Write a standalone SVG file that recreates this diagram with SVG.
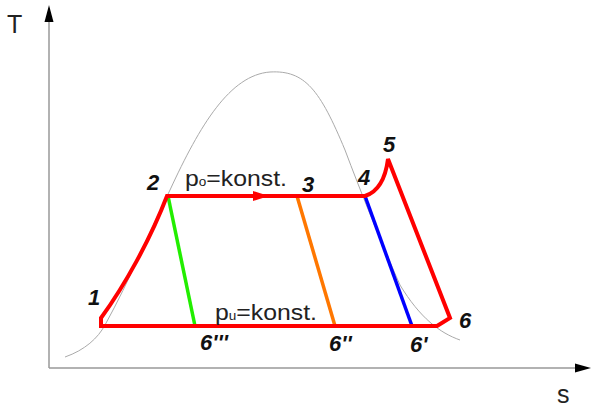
<svg xmlns="http://www.w3.org/2000/svg" width="592" height="410" viewBox="0 0 592 410">
<style>
.axis{stroke:#999;stroke-width:1.5;fill:none}
.dome{stroke:#aaa;stroke-width:1;fill:none}
.cyc{stroke:#ff0000;stroke-width:4;fill:none;stroke-linejoin:miter}
.lbl{font-family:"Liberation Sans",Arial,sans-serif;font-size:22px;font-weight:bold;font-style:italic;fill:#111}
.txt{font-family:"Liberation Sans",Arial,sans-serif;font-size:22px;fill:#222}
.ax{font-family:"Liberation Sans",Arial,sans-serif;font-size:25px;fill:#222}
</style>
<rect width="592" height="410" fill="#fff"/>
<g id="axes">
<line class="axis" x1="49" y1="368" x2="49" y2="18"/>
<polygon points="49,5 44.5,22 53.5,22" fill="#000"/>
<line class="axis" x1="49" y1="368" x2="578" y2="368"/>
<polygon points="591,368 575,363.5 575,372.5" fill="#000"/>
<text class="ax" x="7" y="33">T</text>
<text class="ax" x="557" y="403">s</text>
</g>
<g id="dome">
<path class="dome" d="M65,357 C85,350 98,338 105,325 C130,280 150,230 170,190 C200,125 230,75 270,72 C305,70 320,90 345,150 C360,190 380,240 400,285 C420,318 440,333 460,340"/>
</g>
<g id="connectors">
<line x1="168" y1="196" x2="195" y2="326" stroke="#22ee00" stroke-width="3.5"/>
<line x1="297" y1="196" x2="335" y2="326" stroke="#ff7700" stroke-width="3.5"/>
<line x1="365" y1="196" x2="412" y2="326" stroke="#0000ff" stroke-width="3.5"/>
<path class="cyc" d="M101,326 L101,318 C125,285 150,240 167,196 L365,196 Q384,190 388,159 L450,318 L437,326 Z"/>
<polygon points="253,191 269,196 253,201" fill="#ff0000"/>
</g>
<g id="labels">
<text class="lbl" x="88" y="305">1</text>
<text class="lbl" x="147" y="190">2</text>
<text class="lbl" x="302" y="192">3</text>
<text class="lbl" x="358" y="185">4</text>
<text class="lbl" x="383" y="152">5</text>
<text class="lbl" x="459" y="328">6</text>
<text class="lbl" x="410" y="352">6'</text>
<text class="lbl" x="329" y="351">6''</text>
<text class="lbl" x="200" y="350">6'''</text>
<text class="txt" x="185" y="186" textLength="102" lengthAdjust="spacingAndGlyphs">p<tspan font-size="12">o</tspan>=konst.</text>
<text class="txt" x="215" y="320" textLength="102" lengthAdjust="spacingAndGlyphs">p<tspan font-size="12">u</tspan>=konst.</text>
</g>
</svg>
